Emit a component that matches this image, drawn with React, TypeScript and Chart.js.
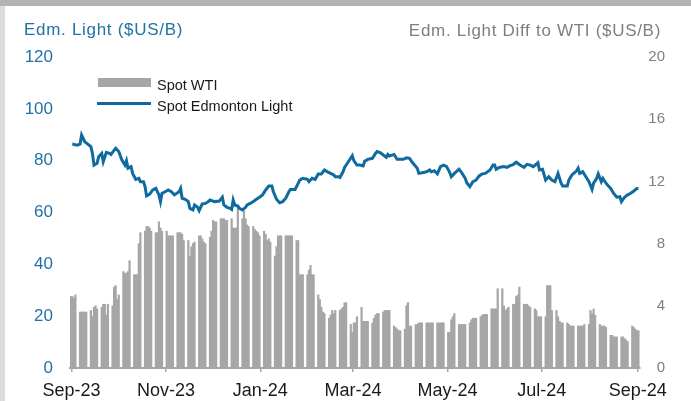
import React, { useEffect, useRef } from 'react';
import { Chart, registerables } from 'chart.js';

Chart.register(...registerables);

// ---------------- data ----------------
// x values are days since 2023-09-01
const X_TICK_LABELS = ['Sep-23', 'Nov-23', 'Jan-24', 'Mar-24', 'May-24', 'Jul-24', 'Sep-24'];
const X_TICK_DAYS = [0, 61, 122, 182, 243, 304, 366];
// Excel date-axis: columns sit in slots right of the date ticks
const TICK_SHIFT = -2.5;

const LEFT_TICKS = [0, 20, 40, 60, 80, 100, 120];
const RIGHT_TICKS = [0, 4, 8, 12, 16, 20];

// Edm. Light diff to WTI ($US/B), one value per weekday, starting Tue 2023-08-29
const BAR_FIRST_DAY = -3;
const DIFF_VALUES = [
  4.6, 4.6, 4.5, 4.7,
  3.6, 3.6, 3.6, 3.6, 3.6,
  3.7, 3.3, 3.9, 4.0, 3.8,
  3.9, 4.1, 4.1, 3.4, 4.1,
  4.0, 5.2, 5.3, 4.4, 4.7,
  6.2, 6.1, 6.1, 6.2, 6.9,
  6.0, 6.0, 6.0, 8.0, 8.7,
  8.8, 9.1, 9.1, 9.0, 8.8,
  8.7, 8.7, 9.4, 9.0, 8.8,
  8.8, 8.5, 8.5, 8.5, 8.5,
  8.7, 8.7, 8.7, 8.6, 8.2,
  8.2, 7.2, 7.8, 8.0, 8.1,
  8.5, 8.5, 8.3, 8.1, 8.0,
  8.4, 8.8, 9.5, 9.4, 9.4,
  9.6, 9.6, 9.6, 9.5, 9.5,
  9.6, 9.0, 9.0, 9.0, 10.4,
  9.6, 10.1, 9.6, 9.2, 9.1,
  9.1, 8.9, 8.8, 8.7, 8.5,
  8.8, 8.6, 8.2, 8.3, 8.1,
  7.2, 7.8, 8.5, 8.5, 8.5,
  8.5, 8.5, 8.5, 8.5, 8.5,
  8.2, 8.2, 6.0, 6.0, 6.0,
  6.0, 6.3, 6.6, 6.0, 6.0,
  4.7, 4.4, 3.9, 3.6, 3.5,
  3.2, 3.4, 3.7, 3.5, 3.7,
  3.7, 3.8, 3.9, 4.2, 4.2,
  2.8, 2.3, 2.9, 2.9, 3.3,
  3.9, 3.0, 3.0, 3.0, 3.0,
  2.9, 3.2, 3.4, 3.5, 3.5,
  3.6, 3.7, 3.7, 3.7, 3.7,
  2.7, 2.6, 2.5, 2.4, 2.4,
  2.5, 4.0, 4.2, 2.7, 2.7,
  2.8, 2.8, 2.9, 2.9, 2.9,
  2.9, 2.9, 2.9, 2.9, 2.9,
  2.9, 2.9, 2.9, 2.9, 2.9,
  2.3, 2.3, 3.1, 3.3, 3.5,
  2.8, 2.8, 2.8, 2.8, 2.8,
  2.9, 3.1, 3.2, 3.2, 3.2,
  3.3, 3.4, 3.45, 3.45, 3.45,
  3.8, 3.8, 3.8, 3.8, 5.1,
  5.1, 4.0, 3.7, 3.8, 3.9,
  4.1, 4.1, 4.6, 4.7, 5.2,
  4.1, 4.1, 4.1, 4.0, 3.9,
  3.8, 3.7, 3.3, 3.3, 3.3,
  3.3, 5.3, 5.3, 5.3, 3.7,
  3.7, 3.3, 3.0, 2.9, 2.9,
  2.9, 2.8, 2.7, 2.7, 2.7,
  2.7, 2.7, 2.7, 2.7, 2.8,
  2.8, 3.7, 3.5, 3.8, 3.4,
  2.8, 2.7, 2.7, 2.7, 2.6,
  2.1, 2.1, 2.0, 2.0, 2.0,
  2.0, 2.0, 1.9, 1.8, 1.7,
  2.7, 2.6, 2.5, 2.4, 2.4,
];

// Spot Edmonton Light ($US/B)
const LINE_DAYS = [
  -2, 1, 3, 4, 6, 8, 10, 11, 12, 14, 15, 17, 18, 20, 22, 23, 26, 28, 30, 32, 33, 34, 36, 37, 39, 41, 42, 44, 45, 46,
  48, 50, 52, 54, 55, 56, 58, 60, 62, 64, 67, 68, 69, 71, 73, 74, 76, 77, 79, 80, 82, 84, 86, 87, 90, 93, 95, 96, 98, 100,
  101, 102, 103, 105, 106, 108, 110, 111, 113, 115, 117, 119, 121, 123, 125, 127, 128, 130, 132, 134, 136, 138, 139, 142, 143, 145, 147, 150, 151, 153,
  155, 157, 159, 161, 163, 165, 167, 168, 170, 171, 173, 174, 176, 179, 180, 182, 184, 186, 187, 189, 192, 194, 195, 197, 199, 201, 202, 203, 206, 208,
  210, 212, 214, 216, 218, 221, 222, 225, 227, 229, 230, 232, 234, 236, 238, 240, 242, 243, 245, 248, 250, 252, 253, 255, 257, 259, 261, 263, 265, 268,
  270, 271, 272, 274, 277, 279, 281, 283, 285, 287, 290, 292, 294, 296, 299, 300, 302, 304, 306, 308, 310, 312, 314, 315, 318, 319, 321, 324, 325, 326,
  328, 330, 332, 334, 335, 337, 338, 340, 341, 343, 346, 348, 350, 352, 353, 355, 357, 359, 361, 363, 364,
];
const LINE_VALUES = [
  86.4, 86.0, 86.4, 89.9, 87.3, 86.4, 85.4, 82.8, 78.3, 79.0, 81.5, 82.8, 79.6, 83.2, 82.8, 82.4, 84.8, 83.5, 80.3, 78.3, 80.0, 77.1, 77.7, 75.1, 72.8, 73.2, 71.9, 71.9, 70.0, 66.4,
  67.1, 68.7, 69.3, 66.8, 64.2, 67.4, 68.0, 68.7, 68.0, 66.8, 68.0, 69.3, 65.5, 65.1, 64.2, 61.6, 61.0, 62.9, 62.0, 60.7, 63.3, 63.5, 64.2, 64.8, 64.2, 64.4, 65.9, 62.9, 62.0, 61.6,
  61.2, 64.8, 62.9, 62.5, 61.6, 61.0, 62.0, 62.9, 63.5, 64.2, 65.1, 65.9, 66.8, 68.7, 70.2, 70.2, 68.0, 65.1, 63.8, 64.2, 65.5, 68.0, 68.9, 68.9, 70.0, 72.5, 73.2, 72.8, 71.9, 73.2,
  72.8, 74.9, 74.9, 76.4, 75.7, 75.1, 74.5, 73.8, 73.8, 73.5, 75.7, 77.4, 79.2, 81.9, 80.0, 78.3, 78.3, 78.0, 79.8, 80.5, 80.9, 82.8, 83.5, 83.1, 82.2, 81.3, 82.4, 81.8, 82.4, 80.5,
  80.5, 80.5, 81.1, 80.9, 79.2, 77.1, 75.1, 75.4, 75.7, 76.4, 75.7, 76.1, 74.9, 77.7, 78.3, 77.7, 75.4, 73.8, 75.1, 76.7, 75.1, 73.2, 71.5, 70.0, 71.9, 72.5, 74.1, 74.9, 75.1, 76.4,
  78.3, 78.3, 76.7, 77.4, 77.7, 77.4, 78.1, 78.5, 79.4, 78.5, 77.4, 78.6, 78.3, 77.7, 79.2, 76.4, 76.7, 72.5, 73.8, 72.5, 71.9, 75.1, 71.3, 70.2, 70.2, 72.5, 74.5, 76.1, 77.1, 75.1,
  75.7, 73.8, 71.9, 68.9, 71.3, 73.2, 74.9, 71.9, 73.2, 71.3, 69.3, 67.4, 65.9, 66.1, 64.2, 65.9, 66.8, 67.4, 68.3, 69.3, 69.3,
];

// ---------------- styles ----------------
const FONT = "'Liberation Sans', Arial, sans-serif";
const BLUE = '#0f6a9e';
const BLUE_TEXT = '#2173a6';
const GRAY_BAR = '#a6a6a6';
const GRAY_TEXT = '#7f7f7f';

function isWeekend(day: number) {
  const wd = (((day + 4) % 7) + 7) % 7; // 0 = Monday (2023-09-01 is a Friday)
  return wd >= 5;
}

function buildBarPoints() {
  const pts: { x: number; y: number }[] = [];
  let day = BAR_FIRST_DAY;
  for (const v of DIFF_VALUES) {
    while (isWeekend(day)) day++;
    pts.push({ x: day, y: v });
    day++;
  }
  return pts;
}

export default function App() {
  const ref = useRef<HTMLCanvasElement | null>(null);

  useEffect(() => {
    if (!ref.current) return;
    Chart.defaults.font.family = FONT;
    const barPts = buildBarPoints();
    const linePts = LINE_DAYS.map((d, i) => ({ x: d, y: LINE_VALUES[i] }));

    const chart = new Chart(ref.current, {
      type: 'bar',
      data: {
        datasets: [
          {
            type: 'line',
            label: 'Spot Edmonton Light',
            data: linePts,
            yAxisID: 'y',
            borderColor: BLUE,
            borderWidth: 3,
            pointRadius: 0,
            tension: 0,
            order: 0,
          } as any,
          {
            type: 'bar',
            label: 'Spot WTI',
            data: barPts,
            yAxisID: 'y1',
            backgroundColor: GRAY_BAR,
            borderWidth: 0,
            barPercentage: 1,
            categoryPercentage: 1,
            order: 1,
          } as any,
        ],
      },
      options: {
        responsive: false,
        animation: false,
        layout: { padding: { left: 0, right: 26, top: 57, bottom: 0 } },
        plugins: { legend: { display: false }, tooltip: { enabled: false }, title: { display: false } },
        scales: {
          x: {
            type: 'linear',
            offset: false,
            min: BAR_FIRST_DAY - 0.5,
            max: 365,
            afterBuildTicks: (scale: any) => {
              scale.ticks = X_TICK_DAYS.map((d) => ({ value: d + TICK_SHIFT }));
            },
            afterFit: (scale: any) => {
              scale.height = 33;
            },
            ticks: {
              autoSkip: false,
              maxRotation: 0,
              minRotation: 0,
              padding: 8,
              color: '#1a1a1a',
              font: { size: 18, family: FONT },
              callback: (_v: any, i: number) => X_TICK_LABELS[i],
            },
            grid: {
              display: true,
              offset: false,
              drawOnChartArea: false,
              drawTicks: true,
              tickLength: 4,
              color: GRAY_BAR,
              lineWidth: 1.5,
            },
            border: { display: true, color: GRAY_BAR, width: 2 },
          },
          y: {
            type: 'linear',
            position: 'left',
            min: 0,
            max: 120,
            afterBuildTicks: (scale: any) => {
              scale.ticks = LEFT_TICKS.map((v) => ({ value: v }));
            },
            afterFit: (scale: any) => {
              scale.width = 70;
            },
            ticks: { padding: 17, color: BLUE_TEXT, font: { size: 17, family: FONT } },
            grid: { display: false, drawTicks: false },
            border: { display: false },
          },
          y1: {
            type: 'linear',
            position: 'right',
            min: 0,
            max: 20,
            afterBuildTicks: (scale: any) => {
              scale.ticks = RIGHT_TICKS.map((v) => ({ value: v }));
            },
            afterFit: (scale: any) => {
              scale.width = 25;
            },
            ticks: { crossAlign: 'far', padding: 0, color: GRAY_TEXT, font: { size: 15, family: FONT } },
            grid: { display: false, drawTicks: false },
            border: { display: false },
          },
        },
      } as any,
    });
    return () => chart.destroy();
  }, []);

  const text: React.CSSProperties = { position: 'absolute', fontFamily: FONT, whiteSpace: 'nowrap' };

  return (
    <div style={{ position: 'fixed', left: 0, top: 0, width: 691, height: 401, background: '#fff', overflow: 'hidden' }}>
      <canvas ref={ref} width={691} height={401} style={{ position: 'absolute', left: 0, top: 0, width: 691, height: 401 }} />
      <div style={{ position: 'absolute', left: 0, top: 0, width: 691, height: 6, background: '#b3b3b3' }} />
      <div style={{ position: 'absolute', left: 0, top: 6, width: 5, height: 395, background: '#dcdcdc' }} />
      <div style={{ ...text, left: 24, top: 20, fontSize: 17, lineHeight: '20px', letterSpacing: '0.7px', color: BLUE_TEXT }}>
        Edm. Light ($US/B)
      </div>
      <div style={{ ...text, right: 30, top: 21, fontSize: 17, lineHeight: '20px', letterSpacing: '0.7px', color: GRAY_TEXT, textAlign: 'right' }}>
        Edm. Light Diff to WTI ($US/B)
      </div>
      <div style={{ position: 'absolute', left: 98, top: 78, width: 53, height: 9, background: GRAY_BAR }} />
      <div style={{ ...text, left: 157, top: 76, fontSize: 14.5, lineHeight: '18px', color: '#1a1a1a' }}>Spot WTI</div>
      <div style={{ position: 'absolute', left: 97, top: 102, width: 54, height: 3, background: BLUE }} />
      <div style={{ ...text, left: 157, top: 97, fontSize: 14.5, lineHeight: '18px', color: '#1a1a1a' }}>Spot Edmonton Light</div>
    </div>
  );
}
